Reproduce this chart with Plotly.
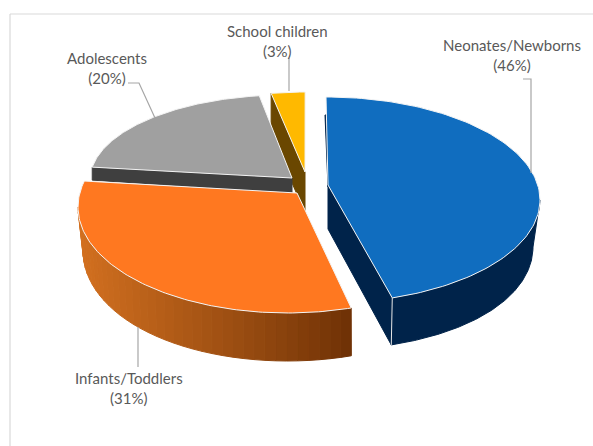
import numpy as np
import plotly.graph_objects as go

# --- data ---
categories = ["Neonates/Newborns", "Infants/Toddlers", "Adolescents", "School children"]
shares = [46, 31, 20, 3]
top_colors = ["#106dbf", "#ff7820", "#a0a0a0", "#ffb900"]
side_colors = ["#00234a", "#a85214", "#3f3f3f", "#6a4700"]

W, H = 593, 446
DEG = np.pi / 180

# Projection of each exploded slice (ellipse centre, semi-axes, apex, start angle, foreshortening)
proj = {
    "Neonates/Newborns": dict(c=(326, 200), a=214, b=103, tip=(328, 185), start=0.0, stretch=0.978),
    "Infants/Toddlers": dict(c=(287.5, 207), a=209.5, b=106, tip=(297, 193), start=162.3, stretch=1.092),
    "Adolescents": dict(c=(285, 180), a=195, b=85, tip=(292, 178), start=278.7, stretch=1.024),
    "School children": dict(c=(305, 180), a=195, b=88, tip=(305, 172), start=350.0, stretch=0.93),
}


def span(name):
    p = proj[name]
    return p["start"], p["start"] + shares[categories.index(name)] * 3.6 * p["stretch"]


def rim(name, t0=None, t1=None, n=120):
    p = proj[name]
    s, e = span(name)
    t = np.linspace(s if t0 is None else t0, e if t1 is None else t1, n) * DEG
    return p["c"][0] + p["a"] * np.sin(t), p["c"][1] - p["b"] * np.cos(t)


fig = go.Figure()


def poly(x, y, fill, line=None, width=1):
    fig.add_trace(go.Scatter(
        x=list(x) + [x[0]], y=list(y) + [y[0]], mode="lines", fill="toself",
        fillcolor=fill, line=dict(color=line or fill, width=width),
        hoverinfo="skip", showlegend=False))


def seg(x, y, color="#a6a6a6", width=1.2):
    fig.add_trace(go.Scatter(x=x, y=y, mode="lines", line=dict(color=color, width=width),
                             hoverinfo="skip", showlegend=False))


def top(name):
    i = categories.index(name)
    p = proj[name]
    x, y = rim(name)
    poly([p["tip"][0], *x], [p["tip"][1], *y], top_colors[i], "#f4f4f4", 1)


# School children: radial wall, then top
n = "School children"
x, y = rim(n)
tx, ty = proj[n]["tip"]
poly([x[0], tx, tx, x[0]], [y[0], ty, ty + 41, y[0] + 41], side_colors[3])
top(n)

# Adolescents: radial wall, then top
n = "Adolescents"
x, y = rim(n)
tx, ty = proj[n]["tip"]
poly([x[0], tx, tx, x[0]], [y[0], ty, ty + 15, y[0] + 13], side_colors[2])
top(n)

# Infants/Toddlers: outer wall as shaded strips, then top
n = "Infants/Toddlers"
s, e = span(n)
edges = np.linspace(s, 270, 37)
dark, light = np.array([0x70, 0x32, 0x06]), np.array([0xd2, 0x70, 0x20])
for k in range(len(edges) - 1):
    x, y = rim(n, edges[k], edges[k + 1], 6)
    t = np.linspace(edges[k], edges[k + 1], 6) * DEG
    dx = 5 * np.abs(np.sin(t)) ** 3
    dy = 44 + 4 * np.abs(np.cos(t))
    f = np.clip((x[0] - 351) / (80 - 351), 0, 1) ** 0.9
    col = dark + (light - dark) * f
    c = "rgb(%d,%d,%d)" % tuple(col)
    poly([*x, *(x + dx)[::-1]], [*y, *(y + dy)[::-1]], c)
top(n)

# Neonates/Newborns: radial wall, outer wall, then top
n = "Neonates/Newborns"
s, e = span(n)
x, y = rim(n, 90, e)
t = np.linspace(90, e, 120) * DEG
dx = -6 * np.sin(t) ** 4 - 1
poly([*x, *(x + dx)[::-1]], [*y, *(y + 47)[::-1]], side_colors[0])
tx, ty = proj[n]["tip"]
poly([tx, x[-1], x[-1] - 1, tx], [ty, y[-1], y[-1] + 47, ty + 44], side_colors[0])
seg([x[-1], x[-1] - 1], [y[-1], y[-1] + 47], "#e8e8e8", 1)
poly([tx - 3, tx, tx], [ty - 70, ty - 70, ty + 2], side_colors[0])
top(n)

# Leader lines
seg([523, 531, 531], [79, 79, 173])
seg([128, 139, 155], [83, 83, 118])
seg([289, 289], [58, 91])
seg([138, 138], [327, 367])

# Labels
label_pos = {
    "Neonates/Newborns": (512, 55),
    "Infants/Toddlers": (129, 388),
    "Adolescents": (107, 68),
    "School children": (277, 41),
}
annotations = []
for name, v in zip(categories, shares):
    lx, ly = label_pos[name]
    annotations.append(dict(
        x=lx, y=ly, xref="x", yref="y", text=f"{name}<br>({v}%)", showarrow=False,
        align="center", xanchor="center", yanchor="middle",
        font=dict(family="Lato", size=15, color="#595959")))

# Chart frame (runs off the right and bottom of the crop)
shapes = [
    dict(type="line", x0=10, x1=W, y0=14, y1=14, line=dict(color="#d9d9d9", width=1.2)),
    dict(type="line", x0=10, x1=10, y0=14, y1=H, line=dict(color="#d9d9d9", width=1.2)),
]

fig.update_layout(
    width=W, height=H, margin=dict(l=0, r=0, t=0, b=0),
    paper_bgcolor="white", plot_bgcolor="white",
    xaxis=dict(range=[0, W], visible=False, fixedrange=True),
    yaxis=dict(range=[H, 0], visible=False, fixedrange=True),
    annotations=annotations, shapes=shapes, showlegend=False,
)
fig.write_html("out.html", config={"displayModeBar": False},
               post_script="document.body.style.margin='0';document.body.style.overflow='hidden';")
